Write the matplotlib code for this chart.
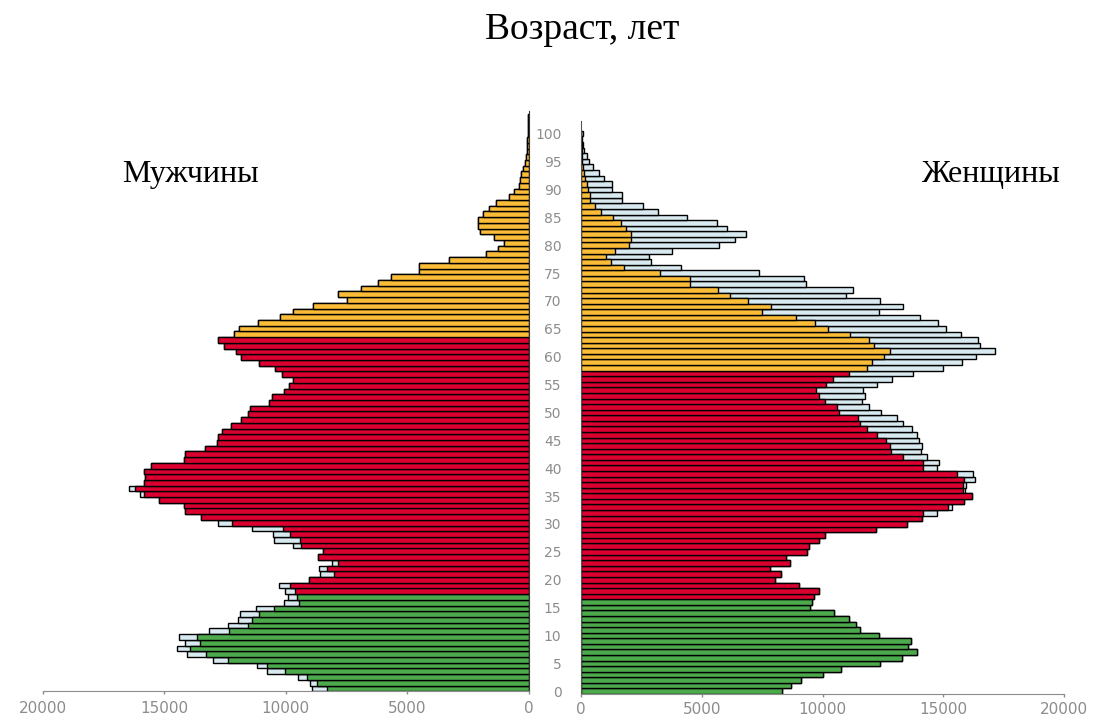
import numpy as np
import matplotlib.pyplot as plt

ages = np.arange(0, 101)

# coloured bars (the same numbers show on both halves of the picture)
core = [8300, 8700, 9120, 10010, 10750, 12360, 13290, 13920, 13540, 13660,
        12320, 11560, 11390, 11090, 10460, 9460, 9550, 9630, 9830, 9020,
        8020, 8280, 7840, 8650, 8470, 9370, 9420, 9830, 10100, 12190,
        13480, 14130, 14170, 15200, 15830, 16190, 15810, 15800, 15840, 15550,
        14170, 14150, 13330, 12840, 12800, 12620, 12230, 11840, 11530, 11480,
        10680, 10580, 10080, 9850, 9710, 10130, 10430, 11080, 11820, 12050,
        12550, 12780, 12110, 11920, 11140, 10220, 9680, 8880, 7490, 7850,
        6910, 6180, 5670, 4520, 4500, 3260, 1770, 1260, 1030, 1420,
        2000, 2070, 2070, 1880, 1640, 1330, 820, 590, 380, 360,
        310, 250, 160, 110, 80, 60, 50, 40, 30, 20, 20]

# light blue bars behind
male_total = [8920, 8990, 9510, 10770, 11170, 13000, 14070, 14470, 14150, 14390,
              13170, 12370, 11960, 11870, 11220, 10080, 9910, 10030, 10280, 9020,
              8580, 8610, 8080, 8650, 8470, 9700, 10500, 10520, 11390, 12800,
              13480, 14130, 14170, 15200, 15980, 16440, 15810, 15800, 15840, 15550,
              14170, 14150, 13330, 12840, 12800, 12620, 12230, 11840, 11530, 11480,
              10680, 10580, 10080, 9850, 9710, 10130, 10430, 11080, 11820, 12050,
              12550, 12780, 12110, 11920, 11140, 10220, 9680, 8880, 7490, 7850,
              6910, 6180, 5670, 4520, 4500, 3260, 1770, 1260, 1030, 1420,
              2000, 2070, 2070, 1880, 1640, 1330, 820, 590, 380, 360,
              310, 250, 160, 110, 80, 60, 50, 40, 30, 20, 20]

female_total = [8300, 8700, 9120, 10010, 10750, 12360, 13290, 13920, 13540, 13660,
                12320, 11560, 11390, 11090, 10460, 9460, 9550, 9630, 9830, 9020,
                8020, 8280, 7840, 8650, 8470, 9370, 9420, 9830, 10100, 12190,
                13480, 14130, 14720, 15360, 15830, 16190, 15890, 15920, 16300, 16230,
                14740, 14810, 14300, 14090, 14120, 14000, 13890, 13710, 13340, 13060,
                12410, 11920, 11610, 11750, 11680, 12230, 12850, 13720, 14960, 15750,
                16340, 17130, 16510, 16440, 15710, 15100, 14780, 14030, 12330, 13340,
                12370, 10960, 11240, 9300, 9240, 7360, 4150, 2900, 2810, 3780,
                5720, 6370, 6810, 6030, 5610, 4370, 3200, 2550, 1710, 1680,
                1270, 1270, 950, 760, 510, 350, 260, 140, 80, 50, 80]

child_last = 16        # last green age
male_work_last = 61    # last red age, men
female_work_last = 57  # last red age, women

GREEN = '#4caa4c'
RED = '#dc0030'
ORANGE = '#fbbd38'
LBLUE = '#d8e9ef'
GREY = '#8c8c8c'


def group_colors(last_work):
    cols = []
    for a in ages:
        if a <= child_last:
            cols.append(GREEN)
        elif a <= last_work:
            cols.append(RED)
        else:
            cols.append(ORANGE)
    return cols


fig = plt.figure(figsize=(10.97, 7.2), dpi=100)
axm = fig.add_axes([0.0389, 0.0399, 0.4430, 0.806])
axf = fig.add_axes([0.5296, 0.0361, 0.4406, 0.7964])

axm.barh(ages, male_total, height=1, color=LBLUE, edgecolor='black', linewidth=1.0)
axm.barh(ages, core, height=1, color=group_colors(male_work_last),
         edgecolor='black', linewidth=1.0)
axf.barh(ages, female_total, height=1, color=LBLUE, edgecolor='black', linewidth=1.0)
axf.barh(ages, core, height=1, color=group_colors(female_work_last),
         edgecolor='black', linewidth=1.0)

axm.set_xlim(20000, 0)
axm.set_ylim(-0.5, 101.1)
axf.set_xlim(0, 20000)
axf.set_ylim(-0.5, 102.35)

for ax, pad in ((axm, 4.5), (axf, 3)):
    ax.set_xticks(np.arange(0, 20001, 5000))
    ax.tick_params(axis='x', colors=GREY, labelsize=11, length=2.5, width=1, pad=pad)
    ax.spines['top'].set_visible(False)
    ax.spines['bottom'].set_color(GREY)
    ax.patch.set_visible(False)

axm.spines['left'].set_visible(False)
axm.spines['right'].set_color('#333333')
axm.set_yticks([])

axf.spines['right'].set_visible(False)
axf.spines['left'].set_color('#555555')
axf.set_yticks(np.arange(0, 101, 5))
axf.tick_params(axis='y', length=0, pad=14, labelsize=10, colors=GREY)

serif = 'Liberation Serif'
fig.text(0.531, 0.958, 'Возраст, лет', ha='center', va='center', fontsize=27, family=serif)
fig.text(0.174, 0.757, 'Мужчины', ha='center', va='center', fontsize=23, family=serif)
fig.text(0.903, 0.757, 'Женщины', ha='center', va='center', fontsize=23, family=serif)

fig.savefig('out.png', dpi=100)
